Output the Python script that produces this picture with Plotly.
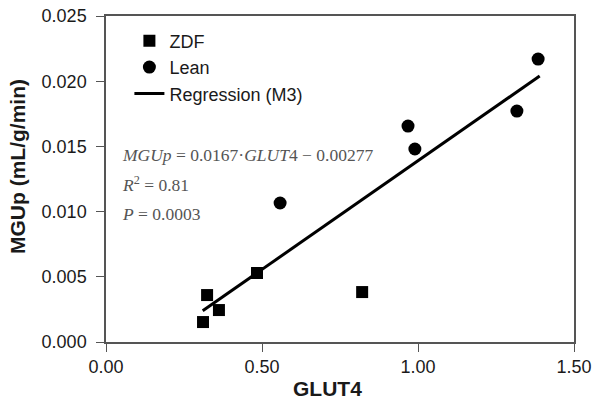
import plotly.graph_objects as go

# GLUT4 vs MGUp
zdf_x = [0.311, 0.324, 0.362, 0.484, 0.821]
zdf_y = [0.00153, 0.0036, 0.00245, 0.00529, 0.00383]
lean_x = [0.558, 0.968, 0.990, 1.317, 1.385]
lean_y = [0.01066, 0.01656, 0.0148, 0.01771, 0.0217]
reg_x = [0.31, 1.39]
reg_y = [0.0024, 0.0204]

x_ticks = [0.0, 0.5, 1.0, 1.5]
x_labels = ["0.00", "0.50", "1.00", "1.50"]
y_ticks = [0.0, 0.005, 0.010, 0.015, 0.020, 0.025]
y_labels = ["0.000", "0.005", "0.010", "0.015", "0.020", "0.025"]

stats = [
    "<i>MGUp</i> = 0.0167·<i>GLUT</i>4 − 0.00277",
    "<i>R</i><sup>2</sup> = 0.81",
    "<i>P</i> = 0.0003",
]
stats_y = [0.01434, 0.01212, 0.00982]

SANS = "Liberation Sans, Arial, sans-serif"
SERIF = "Liberation Serif, Times New Roman, serif"
INK = "#1a1a1a"

fig = go.Figure()
fig.add_trace(go.Scatter(
    x=zdf_x, y=zdf_y, mode="markers", name="ZDF", legendgroup="a",
    marker=dict(symbol="square", size=12, color="black"),
))
fig.add_trace(go.Scatter(
    x=lean_x, y=lean_y, mode="markers", name="Lean", legendgroup="b",
    marker=dict(symbol="circle", size=13, color="black"),
))
fig.add_trace(go.Scatter(
    x=reg_x, y=reg_y, mode="lines", name="Regression (M3)", legendgroup="c",
    line=dict(color="black", width=3),
))

for txt, yv in zip(stats, stats_y):
    fig.add_annotation(
        text=txt, xref="x", yref="y", x=0.045, y=yv,
        xanchor="left", yanchor="middle", showarrow=False,
        font=dict(family=SERIF, size=17.5, color="#555555"),
    )

# axis titles as annotations so they can sit off-centre like the original
fig.add_annotation(
    text="<b>GLUT4</b>", xref="paper", yref="paper", x=0.474, y=-0.144,
    xanchor="center", yanchor="middle", showarrow=False,
    font=dict(family=SANS, size=21, color=INK),
)
fig.add_annotation(
    text="<b>MGUp (mL/g/min)</b>", xref="paper", yref="paper", x=-0.188, y=0.537,
    xanchor="center", yanchor="middle", showarrow=False, textangle=-90,
    font=dict(family=SANS, size=21, color=INK),
)

axis_common = dict(
    showgrid=False, zeroline=False, showline=True, linecolor="#555555",
    linewidth=1.5, mirror=True, ticks="outside", ticklen=8,
    tickcolor="#555555", tickfont=dict(family=SANS, size=18, color=INK),
    automargin=False,
)
fig.update_xaxes(range=[0, 1.5], tickvals=x_ticks, ticktext=x_labels, **axis_common)
fig.update_yaxes(range=[0, 0.025], tickvals=y_ticks, ticktext=y_labels,
                 ticklabelstandoff=6, **axis_common)

fig.update_layout(
    width=600, height=405,
    margin=dict(l=106, r=26, t=16, b=63),
    paper_bgcolor="white", plot_bgcolor="white",
    showlegend=True,
    legend=dict(
        x=0.05, y=0.98, xanchor="left", yanchor="top",
        font=dict(family=SANS, size=18, color=INK),
        tracegroupgap=0, bgcolor="rgba(0,0,0,0)",
    ),
)

# the page's default body margin would shift the chart; drop it
fig.write_html("out.html", config={"displayModeBar": False},
               post_script="document.body.style.margin='0';")
